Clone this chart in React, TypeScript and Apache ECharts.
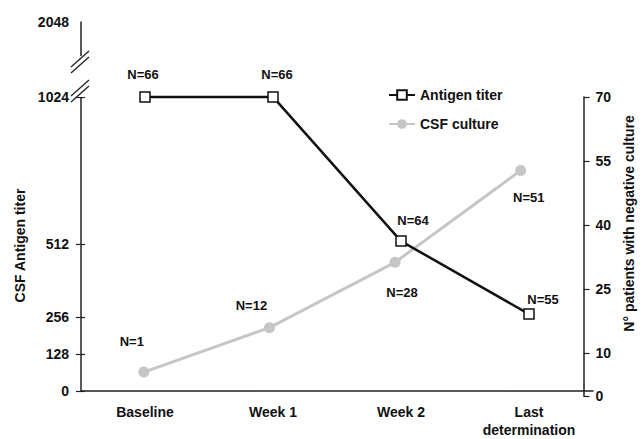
import { useEffect, useRef } from 'react';
import * as echarts from 'echarts';

const categories = ['Baseline', 'Week 1', 'Week 2', 'Last\ndetermination'];
const antigenTiter = [1024, 1024, 522, 268];
const antigenN = ['N=66', 'N=66', 'N=64', 'N=55'];
const csfCulture = [5.6, 16, 31.3, 52.8];
const cultureN = ['N=1', 'N=12', 'N=28', 'N=51'];
const leftTicks = [0, 128, 256, 512, 1024];
const leftTopLabel = '2048';
const leftAxisTop = 1285;
const rightTicks = [0, 10, 25, 40, 55, 70];
const rightMax = 70;

const antigenLabelOffsets = [[-2, -22], [4, -22], [12, -21], [14, -15]];
const cultureLabelOffsets = [[-12, -31], [-18, -22], [7, 30], [8, 27]];

const font = '"Liberation Sans", Arial, sans-serif';
const txt = { fontFamily: font, fontWeight: 'bold' as const, fontSize: 14, color: '#111' };
const axisColor = '#222';

export default function App() {
  const ref = useRef<HTMLDivElement>(null);
  useEffect(() => {
    if (!ref.current) return;
    const chart = echarts.init(ref.current, null, { renderer: 'svg' });
    const option: any = {
      animation: false,
      backgroundColor: '#fff',
      grid: [
        { left: 81, right: 51, top: 22, bottom: 43 },
        { left: 81, right: 51, top: 97, bottom: 43 },
      ],
      legend: {
        orient: 'vertical',
        left: 383,
        top: 83,
        itemWidth: 26,
        itemHeight: 12,
        itemGap: 15,
        textStyle: { ...txt, fontSize: 14 },
        data: ['Antigen titer', 'CSF culture'],
      },
      xAxis: [
        {
          type: 'category',
          gridIndex: 0,
          data: categories,
          boundaryGap: true,
          axisLine: { lineStyle: { color: axisColor, width: 1.5 } },
          axisTick: { alignWithLabel: true, length: 5, lineStyle: { color: axisColor, width: 1.2 } },
          axisLabel: { ...txt, margin: 12, lineHeight: 18, interval: 0 },
          splitLine: { show: false },
        },
        {
          type: 'category',
          gridIndex: 1,
          data: categories,
          boundaryGap: true,
          axisLine: { show: false },
          axisTick: { alignWithLabel: true, inside: true, length: 4, lineStyle: { color: axisColor, width: 1.2 } },
          axisLabel: { show: false },
          splitLine: { show: false },
        },
      ],
      yAxis: [
        {
          type: 'value',
          gridIndex: 0,
          position: 'left',
          min: 0,
          max: leftAxisTop,
          name: 'CSF Antigen titer',
          nameLocation: 'middle',
          nameGap: 54,
          nameTextStyle: { ...txt, padding: [0, 78, 0, 0] },
          axisLine: { show: true, lineStyle: { color: axisColor, width: 1.5 } },
          axisTick: { show: true, customValues: leftTicks, length: 5, lineStyle: { color: axisColor, width: 1.2 } },
          axisLabel: {
            ...txt,
            margin: 12,
            customValues: [...leftTicks, leftAxisTop],
            formatter: (v: number) => (v === leftAxisTop ? leftTopLabel : String(v)),
          },
          splitLine: { show: false },
        },
        {
          type: 'value',
          gridIndex: 1,
          position: 'right',
          min: 0,
          max: rightMax,
          name: 'N° patients with negative culture',
          nameLocation: 'middle',
          nameGap: 36,
          nameTextStyle: { ...txt, padding: [0, 0, 0, 46] },
          axisLine: { show: true, lineStyle: { color: axisColor, width: 1.5 } },
          axisTick: { show: true, customValues: rightTicks, length: 6, lineStyle: { color: axisColor, width: 1.2 } },
          axisLabel: { ...txt, margin: 12, customValues: rightTicks },
          splitLine: { show: false },
        },
        {
          type: 'value',
          gridIndex: 0,
          position: 'left',
          offset: 0,
          min: 0,
          max: leftAxisTop,
          axisLine: { show: false },
          axisTick: { show: true, inside: true, customValues: leftTicks, length: 4, lineStyle: { color: axisColor, width: 1.2 } },
          axisLabel: { show: false },
          splitLine: { show: false },
        },
      ],
      series: [
        {
          name: 'CSF culture',
          type: 'line',
          xAxisIndex: 1,
          yAxisIndex: 1,
          symbol: 'circle',
          symbolSize: 11,
          itemStyle: { color: '#c6c6c6' },
          lineStyle: { color: '#c6c6c6', width: 3 },
          label: { show: true, position: 'inside', ...txt, fontSize: 13 },
          data: csfCulture.map((v, i) => ({
            value: v,
            label: { offset: cultureLabelOffsets[i], formatter: cultureN[i] },
          })),
          z: 2,
        },
        {
          name: 'Antigen titer',
          type: 'line',
          xAxisIndex: 0,
          yAxisIndex: 0,
          symbol: 'rect',
          symbolSize: 10,
          itemStyle: { color: '#fff', borderColor: '#111', borderWidth: 1.5 },
          lineStyle: { color: '#111', width: 2.5 },
          label: { show: true, position: 'inside', ...txt, fontSize: 13 },
          data: antigenTiter.map((v, i) => ({
            value: v,
            label: { offset: antigenLabelOffsets[i], formatter: antigenN[i] },
          })),
          z: 3,
        },
      ],
      graphic: [
        { type: 'rect', z: 100, shape: { x: 77, y: 56, width: 9, height: 41 }, style: { fill: '#fff' } },
        { type: 'line', z: 101, shape: { x1: 71, y1: 73, x2: 89, y2: 57 }, style: { stroke: axisColor, lineWidth: 1.3 } },
        { type: 'line', z: 101, shape: { x1: 71, y1: 67, x2: 89, y2: 51 }, style: { stroke: axisColor, lineWidth: 1.3 } },
        { type: 'line', z: 101, shape: { x1: 71, y1: 102, x2: 89, y2: 86 }, style: { stroke: axisColor, lineWidth: 1.3 } },
        { type: 'line', z: 101, shape: { x1: 71, y1: 96, x2: 89, y2: 80 }, style: { stroke: axisColor, lineWidth: 1.3 } },
      ],
    };
    chart.setOption(option);
    return () => chart.dispose();
  }, []);
  return <div ref={ref} style={{ position: 'absolute', left: 0, top: 0, width: 644, height: 439 }} />;
}
